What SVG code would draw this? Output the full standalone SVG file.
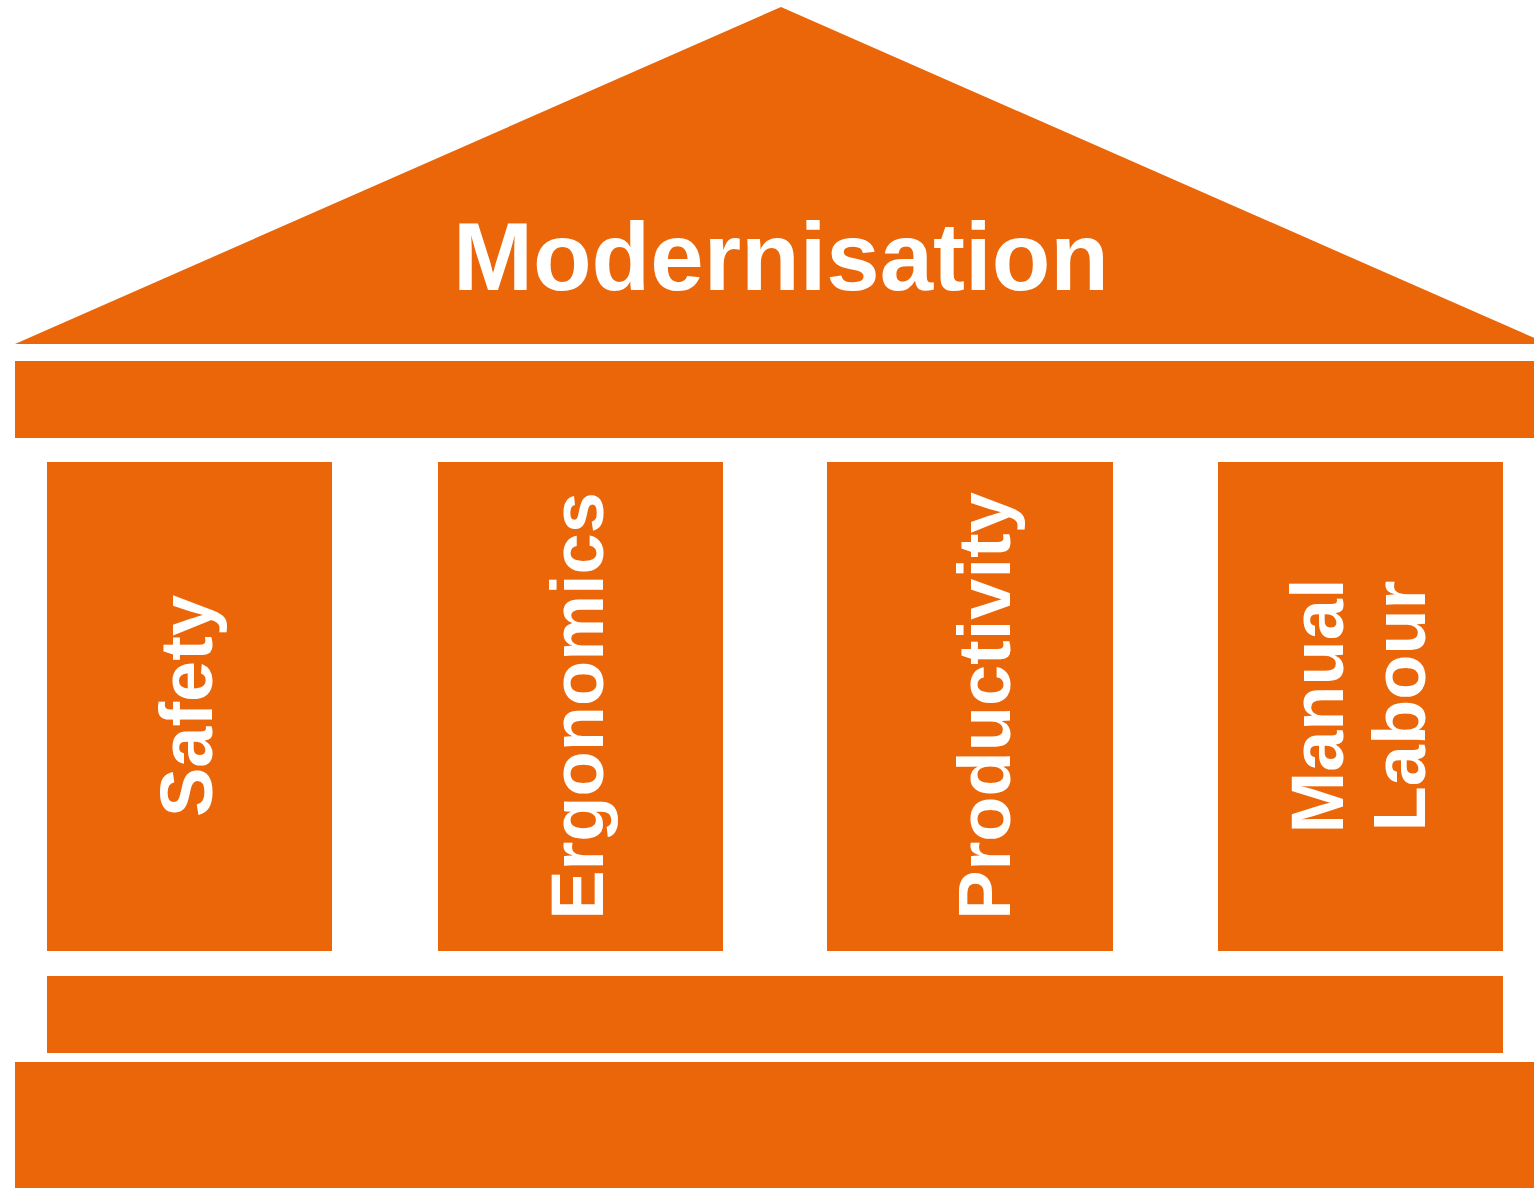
<svg xmlns="http://www.w3.org/2000/svg" width="1534" height="1188" viewBox="0 0 1534 1188">
<style>
.s{fill:#EB6608}
.t{fill:#fff;font-family:"Liberation Sans",Arial,sans-serif;font-weight:bold;text-anchor:middle}
.c{font-size:74px}
</style>
<rect width="1534" height="1188" fill="#fff"/>
<g id="roof"><polygon class="s" points="781,7 15,344 1548,344"/><text class="t" x="781" y="290" font-size="96">Modernisation</text></g>
<g id="beam"><rect class="s" x="15" y="361" width="1519" height="77"/></g>
<g id="col-safety"><rect class="s" x="47" y="462" width="285" height="489"/><text class="t c" transform="translate(212,706) rotate(-90)">Safety</text></g>
<g id="col-ergonomics"><rect class="s" x="438" y="462" width="285" height="489"/><text class="t c" transform="translate(603,706) rotate(-90)">Ergonomics</text></g>
<g id="col-productivity"><rect class="s" x="827" y="462" width="286" height="489"/><text class="t c" transform="translate(1010,706) rotate(-90)">Productivity</text></g>
<g id="col-labour"><rect class="s" x="1218" y="462" width="285" height="489"/><text class="t c" transform="translate(1343,706) rotate(-90)">Manual</text><text class="t c" transform="translate(1425,706) rotate(-90)">Labour</text></g>
<g id="step"><rect class="s" x="47" y="976" width="1456" height="77"/></g>
<g id="base"><rect class="s" x="15" y="1062" width="1519" height="126"/></g>
<g id="connectors"/>
</svg>
